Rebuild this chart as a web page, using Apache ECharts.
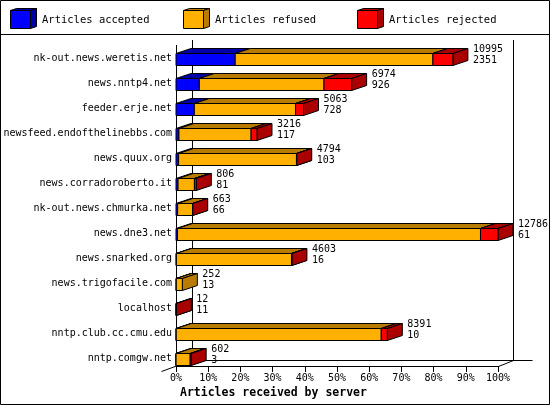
<!DOCTYPE html>
<html>
<head>
<meta charset="utf-8">
<script src="https://cdn.jsdelivr.net/npm/echarts@6/dist/echarts.min.js"></script>
<style>
  html, body { margin: 0; padding: 0; background: #fff; }
  #chart { width: 550px; height: 405px; }
</style>
</head>
<body>
<div id="chart"></div>
<script>
var servers = ['nk-out.news.weretis.net', 'news.nntp4.net', 'feeder.erje.net',
    'newsfeed.endofthelinebbs.com', 'news.quux.org', 'news.corradoroberto.it',
    'nk-out.news.chmurka.net', 'news.dne3.net', 'news.snarked.org',
    'news.trigofacile.com', 'localhost', 'nntp.club.cc.cmu.edu', 'nntp.comgw.net'];
var totals   = [10995, 6974, 5063, 3216, 4794, 806, 663, 12786, 4603, 252, 12, 8391, 602];
var accepted = [2351, 926, 728, 117, 103, 81, 66, 61, 16, 13, 11, 10, 3];
var refused  = [7850, 4950, 4020, 2865, 4680, 650, 590, 12030, 4570, 239, 0, 8140, 560];
var rejected = [794, 1098, 315, 234, 11, 75, 7, 695, 17, 0, 1, 241, 39];
var seriesNames = ['Articles accepted', 'Articles refused', 'Articles rejected'];
var pctTicks = [0, 10, 20, 30, 40, 50, 60, 70, 80, 90, 100];

var frontColors = ['#0000ff', '#ffb000', '#ff0000'];
var darkColors  = ['#0000a8', '#b87c00', '#aa0000'];
var FONT = '"DejaVu Sans Mono", "Liberation Mono", monospace';
var DX = 15, DY = 5, HALF = 6;
var maxTotal = Math.max.apply(null, totals);

function renderBar(params, api) {
    var i = params.dataIndex;
    var parts = [accepted[i], refused[i], rejected[i]];
    var c = api.coord([0, i]);
    var yTop = Math.round(c[1] - HALF) + 0.5;
    var yBot = yTop + 2 * HALF;
    var children = [];
    var sum = 0;
    var xEnd = c[0];
    parts.forEach(function (v, k) {
        if (v <= 0) return;
        var x0 = api.coord([sum / maxTotal * 100, i])[0];
        sum += v;
        var x1 = api.coord([sum / maxTotal * 100, i])[0];
        xEnd = x1;
        children.push({
            type: 'polygon',
            shape: { points: [[x0, yTop], [x0 + DX, yTop - DY], [x1 + DX, yTop - DY], [x1, yTop]] },
            style: { fill: darkColors[k], stroke: '#000', lineWidth: 1 }
        });
        children.push({
            type: 'polygon',
            shape: { points: [[x1, yTop], [x1 + DX, yTop - DY], [x1 + DX, yBot - DY], [x1, yBot]] },
            style: { fill: darkColors[k], stroke: '#000', lineWidth: 1 }
        });
        children.push({
            type: 'rect',
            shape: { x: x0, y: yTop, width: x1 - x0, height: yBot - yTop },
            style: { fill: frontColors[k], stroke: '#000', lineWidth: 1 }
        });
    });
    children.push({
        type: 'text',
        style: {
            text: totals[i] + '\n' + accepted[i],
            x: xEnd + DX + 5,
            y: c[1] - 3.5,
            fill: '#000',
            font: '10px ' + FONT,
            lineHeight: 11,
            align: 'left',
            verticalAlign: 'middle'
        }
    });
    return { type: 'group', children: children };
}

function renderFrame(params, api) {
    var cs = params.coordSys;
    var x0 = Math.round(api.coord([0, 0])[0]) + 0.5;
    var x1 = Math.round(api.coord([100, 0])[0]) + 0.5;
    var top = cs.y, front = cs.y + cs.height - DY + 0.5;
    var back = front - DY - 1;
    function ln(a, b, c2, d) {
        return { type: 'line', shape: { x1: a, y1: b, x2: c2, y2: d }, style: { stroke: '#000', lineWidth: 1 } };
    }
    return {
        type: 'group',
        children: [
            ln(x0, top - 1, x0, front),
            ln(x0 + DX + 1, top - 6, x0 + DX + 1, back),
            ln(x1 + DX, top - 6, x1 + DX, back),
            ln(x0 + DX + 1, back, x1 + DX + 19, back),
            ln(x0 - DX, front + DY, x0 + DX, back),
            ln(x1, front, x1 + DX, back)
        ]
    };
}

// legend drawn as little cubes like the original
var legendGraphics = [
    { type: 'rect', shape: { x: 0.5, y: 0.5, width: 549, height: 404 }, style: { fill: null, stroke: '#000', lineWidth: 1 } },
    { type: 'line', shape: { x1: 0, y1: 34.5, x2: 550, y2: 34.5 }, style: { stroke: '#000', lineWidth: 1 } }
];
[10, 183, 357].forEach(function (lx, k) {
    var x = lx + 0.5, y = 10.5;
    legendGraphics.push({ type: 'polygon', shape: { points: [[x, y], [x + 6, y - 2], [x + 26, y - 2], [x + 20, y]] }, style: { fill: darkColors[k], stroke: '#000' } });
    legendGraphics.push({ type: 'polygon', shape: { points: [[x + 20, y], [x + 26, y - 2], [x + 26, y + 16], [x + 20, y + 18]] }, style: { fill: darkColors[k], stroke: '#000' } });
    legendGraphics.push({ type: 'rect', shape: { x: x, y: y, width: 20, height: 18 }, style: { fill: frontColors[k], stroke: '#000' } });
    legendGraphics.push({ type: 'text', x: lx + 32, y: 20, style: { text: seriesNames[k], fill: '#000', font: '10.5px ' + FONT, verticalAlign: 'middle' } });
});

var chart = echarts.init(document.getElementById('chart'));
chart.setOption({
    backgroundColor: '#fff',
    animation: false,
    grid: { left: 176, right: 52, top: 46, bottom: 34, outerBoundsMode: 'none' },
    xAxis: {
        type: 'value', min: 0, max: 100, interval: 10, offset: -5,
        axisLine: { show: true, lineStyle: { color: '#000', width: 1 } },
        axisTick: { show: true, length: 6, lineStyle: { color: '#000' } },
        splitLine: { show: false },
        axisLabel: {
            color: '#000', fontFamily: FONT, fontSize: 10, margin: 7,
            formatter: function (v) { return pctTicks.indexOf(v) >= 0 ? v + '%' : ''; }
        },
        name: 'Articles received by server',
        nameLocation: 'start',
        nameGap: -4,
        nameTextStyle: {
            align: 'left', verticalAlign: 'top', color: '#000', fontFamily: FONT,
            fontWeight: 'bold', fontSize: 11.5, padding: [21, 0, 0, 0]
        }
    },
    yAxis: {
        type: 'category', data: servers, inverse: true,
        axisLine: { show: false }, axisTick: { show: false }, splitLine: { show: false },
        axisLabel: { color: '#000', fontFamily: FONT, fontSize: 10, margin: 4 }
    },
    graphic: legendGraphics,
    series: [
        { type: 'custom', name: 'frame', renderItem: renderFrame, data: [[0, 0]], z: 1, silent: true },
        { type: 'custom', name: 'bars', renderItem: renderBar, data: servers.map(function (s, i) { return [0, i]; }), z: 2 }
    ]
});
</script>
</body>
</html>
